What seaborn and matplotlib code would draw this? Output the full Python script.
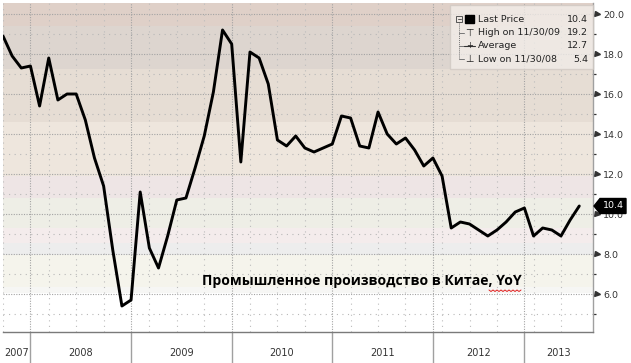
import numpy as np
import pandas as pd
import matplotlib
matplotlib.use("Agg")
import matplotlib.pyplot as plt
import seaborn as sns
from matplotlib.transforms import blended_transform_factory, ScaledTranslation
from matplotlib.patches import Rectangle, Polygon
from matplotlib.lines import Line2D

# ---------------- data (China industrial production, YoY %) ----------------
years = [2007, 2008, 2009, 2010, 2011, 2012, 2013]
first_month = [9, 2, 2, 2, 2, 3, 3]
ip_2007 = [18.9, 17.9, 17.3, 17.4]
ip_2008 = [15.4, 17.8, 15.7, 16.0, 16.0, 14.7, 12.8, 11.4, 8.2, 5.4, 5.7]
ip_2009 = [11.1, 8.3, 7.3, 8.9, 10.7, 10.8, 12.3, 13.9, 16.1, 19.2, 18.5]
ip_2010 = [12.6, 18.1, 17.8, 16.5, 13.7, 13.4, 13.9, 13.3, 13.1, 13.3, 13.5]
ip_2011 = [14.9, 14.8, 13.4, 13.3, 15.1, 14.0, 13.5, 13.8, 13.2, 12.4, 12.8]
ip_2012 = [11.9, 9.3, 9.6, 9.5, 9.2, 8.9, 9.2, 9.6, 10.1, 10.3]
ip_2013 = [8.9, 9.3, 9.2, 8.9, 9.7, 10.4]
series = [ip_2007, ip_2008, ip_2009, ip_2010, ip_2011, ip_2012, ip_2013]

legend_labels = ["Last Price", "High on 11/30/09", "Average", "Low on 11/30/08"]
legend_values = ["10.4", "19.2", "12.7", "5.4"]
last_value = 10.4
yticks = [6.0, 8.0, 10.0, 12.0, 14.0, 16.0, 18.0, 20.0]
title = "Промышленное производство в Китае, YoY"

rows = []
for yr, fm, vals in zip(years, first_month, series):
    for k, v in enumerate(vals):
        rows.append((yr, fm + k, v))
df = pd.DataFrame(rows, columns=["year", "month", "value"])
df["idx"] = np.arange(len(df))

# ---------------- figure ----------------
W, H = 631, 363
fig = plt.figure(figsize=(W / 100, H / 100), dpi=100)
fig.patch.set_facecolor("white")
sns.set_style("white")
plt.rcParams["font.family"] = ["DejaVu Sans"]

def fx(px):
    return px / W

def fy(py):
    return 1 - py / H

ax = fig.add_axes([fx(3), fy(332), fx(593) - fx(3), fy(3) - fy(332)])
ax.set_facecolor("white")

# background bands (value ranges)
bands = [
    (19.4, 20.6, "#dfd0c8"),
    (17.25, 19.4, "#ddd5cf"),
    (14.6, 17.25, "#e6ddd4"),
    (11.9, 14.6, "#eee6dd"),
    (10.8, 11.9, "#eee5e5"),
    (9.3, 10.8, "#eeeee6"),
    (8.55, 9.3, "#f4ecec"),
    (7.95, 8.55, "#ededed"),
    (6.35, 7.95, "#f5f4ec"),
    (6.05, 6.35, "#f6f6f4"),
]
for lo, hi, c in bands:
    ax.axhspan(lo, hi, color=c, lw=0, zorder=0)

x_left, x_right = 0.055, 64.5
ax.set_xlim(x_left, x_right)
ax.set_ylim(4.1, 20.55)

# grid lines
for v in np.arange(5, 21, 1.0):
    even = int(v) % 2 == 0
    ax.axhline(v, color="#a3a3a3" if even else "#b8b8b8", lw=0.8,
               ls=(0, (1, 1.3)) if even else (0, (1, 4)), zorder=1)

dec_idx = df.index[df["month"] == 12].tolist()
q_idx = df.index[df["month"].isin([3, 6, 9])].tolist()
for i in dec_idx:
    ax.axvline(i, color="#a3a3a3", lw=0.8, ls=(0, (1, 1.3)), zorder=1)
for i in q_idx:
    ax.axvline(i, color="#bcbcbc", lw=0.8, ls=(0, (1, 4)), zorder=1)

sns.lineplot(data=df, x="idx", y="value", ax=ax, color="black", lw=2.1, zorder=5)
ax.set_xlabel("")
ax.set_ylabel("")

# spines
for s in ["top", "left"]:
    ax.spines[s].set_visible(False)
ax.spines["bottom"].set_color("#7a7a7a")
ax.spines["bottom"].set_linewidth(1.0)
ax.spines["right"].set_color("#a0a0a0")
ax.spines["right"].set_linewidth(1.0)

# x ticks
ax.set_xticks(sorted(dec_idx + q_idx))
ax.set_xticklabels([])
ax.tick_params(axis="x", direction="inout", length=4, width=0.8, color="#444")

# y ticks on the right
ax.yaxis.tick_right()
ax.set_yticks(yticks)
ax.set_yticklabels([f"{t:.1f}" for t in yticks], fontsize=6.8, color="#333")
ax.tick_params(axis="y", length=0, pad=7.5)
ax.set_yticks(np.arange(5, 21, 2.0), minor=True)
ax.tick_params(axis="y", which="minor", length=2.5, width=0.9, color="#333")
tr = blended_transform_factory(ax.transAxes, ax.transData) + \
    ScaledTranslation(4 / 100, 0, fig.dpi_scale_trans)
ax.plot(np.ones(len(yticks)), yticks, transform=tr, marker=">", ls="none",
        ms=3.6, color="#333", clip_on=False)

# year labels and separators
bx = blended_transform_factory(ax.transData, ax.transAxes)
bounds = [x_left] + dec_idx + [x_right]
for k, yr in enumerate(years):
    cx = (bounds[k] + bounds[k + 1]) / 2
    if k == 0:
        cx = bounds[k] + 1.45
    ax.text(cx, -0.063, str(yr), transform=bx, ha="center", va="center",
            fontsize=7, color="#333")
for i in dec_idx:
    ax.add_line(Line2D([i, i], [0, -0.1], transform=bx, color="#a0a0a0",
                       lw=1.0, clip_on=False))

# last price tag
ax_x, ax_y = ax.transData.transform((x_right, last_value))
inv = fig.transFigure.inverted()
offs = [(1, 0), (7, 7.5), (33, 7.5), (33, -7.5), (7, -7.5)]
verts = inv.transform([(ax_x + dx, ax_y + dy) for dx, dy in offs])
fig.patches.append(Polygon(verts, closed=True, fc="black", ec="black",
                           transform=fig.transFigure, zorder=10))
tx, ty = inv.transform((ax_x + 20, ax_y))
fig.text(tx, ty, f"{last_value:.1f}", color="white", fontsize=6.8,
         ha="center", va="center", zorder=11)

# legend box
fig.patches.append(Rectangle((fx(450), fy(69)), fx(593) - fx(450), fy(5) - fy(69),
                             transform=fig.transFigure, fc="#f4efeb", alpha=0.75,
                             ec="#cfc8c2", lw=1.0, zorder=8))
row_y = [19, 32.5, 45.5, 59]
for lab, val, ry in zip(legend_labels, legend_values, row_y):
    fig.text(fx(478), fy(ry), lab, fontsize=6.8, color="#222", va="center",
             ha="left", zorder=9)
    fig.text(fx(588), fy(ry), val, fontsize=6.8, color="#222", va="center",
             ha="right", zorder=9)
# icons
fig.patches.append(Rectangle((fx(465), fy(23)), fx(9), 8 / H,
                             transform=fig.transFigure, fc="black", ec="black",
                             zorder=9))
fig.patches.append(Rectangle((fx(456), fy(22)), fx(6), 6 / H,
                             transform=fig.transFigure, fc="none", ec="#555",
                             lw=0.7, zorder=9))
fig.lines.append(Line2D([fx(457.5), fx(460.5)], [fy(19), fy(19)],
                        transform=fig.transFigure, color="#555", lw=0.7, zorder=9))
fig.lines.append(Line2D([fx(459), fx(459)], [fy(22), fy(59)],
                        transform=fig.transFigure, color="#777", lw=0.7,
                        ls=(0, (1, 1)), zorder=9))
for ry in row_y[1:]:
    fig.lines.append(Line2D([fx(459), fx(464)], [fy(ry), fy(ry)],
                            transform=fig.transFigure, color="#777", lw=0.7,
                            zorder=9))
fig.text(fx(469), fy(32.5), "⊤", fontsize=7, color="#222", ha="center",
         va="center", zorder=9)
fig.lines.append(Line2D([fx(464), fx(475)], [fy(45.5), fy(45.5)],
                        transform=fig.transFigure, color="#333", lw=0.8, zorder=9))
fig.text(fx(469.5), fy(45.5), "+", fontsize=6, color="#222", ha="center",
         va="center", zorder=9)
fig.text(fx(469), fy(58.5), "⊥", fontsize=7, color="#222", ha="center",
         va="center", zorder=9)

# caption
fig.text(fx(361.5), fy(281), title, fontsize=10.1, fontweight="bold",
         family=["Open Sans", "DejaVu Sans"], color="black",
         ha="center", va="center", zorder=12)
# spell-check squiggle under "YoY"
zx = np.arange(489, 523, 2.0)
zy = 290 + np.where(np.arange(len(zx)) % 2 == 0, 0, 1.5)
fig.lines.append(Line2D(fx(zx), fy(zy), transform=fig.transFigure,
                        color="#e02020", lw=0.7, zorder=12))

fig.savefig("out.png", dpi=100)
